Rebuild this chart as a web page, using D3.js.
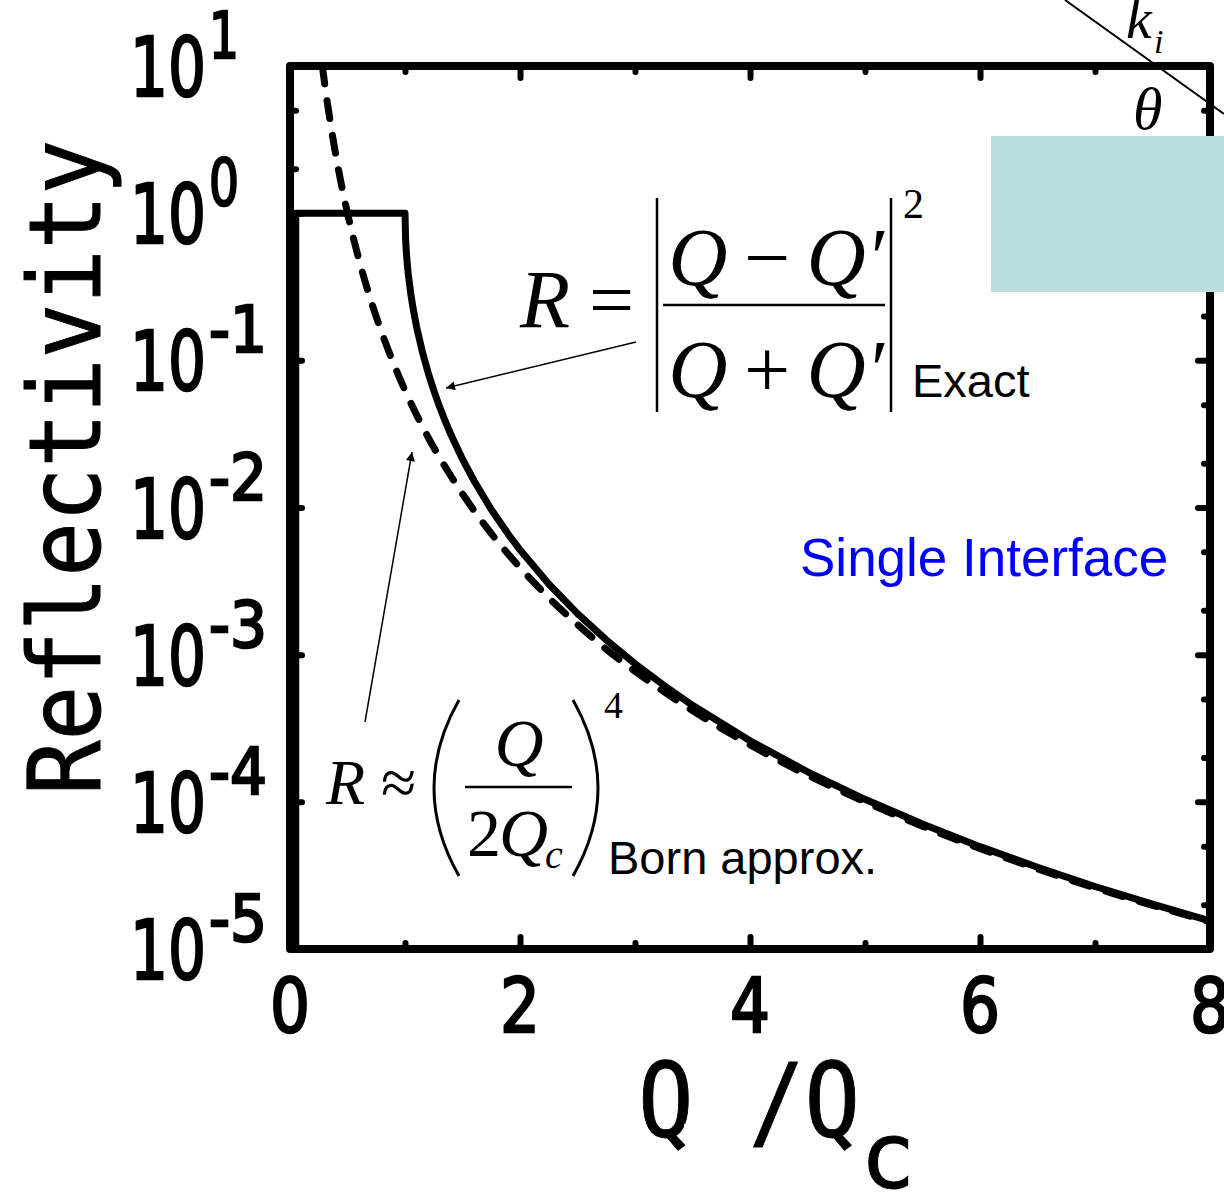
<!DOCTYPE html>
<html>
<head>
<meta charset="utf-8">
<script src="https://cdn.jsdelivr.net/npm/d3@7"></script>
<style>
  html, body { margin: 0; padding: 0; background: #fff; }
  svg { display: block; }
</style>
</head>
<body>
<script>
// Reflectivity of a single interface: exact Fresnel result vs. Born approximation
const xTicks = [0, 2, 4, 6, 8];
const xMinorTicks = [1, 3, 5, 7];
const yDecades = [1e1, 1e0, 1e-1, 1e-2, 1e-3, 1e-4, 1e-5];
const yExponents = ["1", "0", "-1", "-2", "-3", "-4", "-5"];

// exact reflectivity, Q/Qc vs R
const exactQ = [0.05, 0.05, 1.0, 1.005, 1.01, 1.02, 1.03, 1.05, 1.07, 1.1, 1.15, 1.2, 1.25, 1.3, 1.35, 1.4, 1.5, 1.6, 1.75, 1.9, 2.0, 2.25, 2.5, 2.75, 3.0, 3.25, 3.5, 4.0, 4.5, 5.0, 5.5, 6.0, 6.5, 7.0, 7.5, 8.0];
const exactR = [1e-5, 1.0, 1.0, 0.67, 0.568, 0.45, 0.376, 0.284, 0.226, 0.170, 0.115, 0.083, 0.0625, 0.0485, 0.0386, 0.0312, 0.0213, 0.0152, 0.0097, 0.00655, 0.00516, 0.00302, 0.0019, 0.00126, 0.000867, 0.000619, 0.000453, 0.00026, 0.00016, 0.000104, 7.07e-5, 4.96e-5, 3.59e-5, 2.66e-5, 2.02e-5, 1.55e-5];

// Born approximation, Q/Qc vs R
const bornQ = [0.281, 0.3, 0.35, 0.4, 0.45, 0.5, 0.6, 0.7, 0.8, 0.9, 1.0, 1.1, 1.2, 1.4, 1.6, 1.8, 2.0, 2.25, 2.5, 2.75, 3.0, 3.5, 4.0, 4.5, 5.0, 5.5, 6.0, 6.5, 7.0, 7.5, 8.0];
const bornR = [10, 7.72, 4.17, 2.44, 1.52, 1.0, 0.482, 0.26, 0.153, 0.0953, 0.0625, 0.0427, 0.0301, 0.0163, 0.00954, 0.00595, 0.00391, 0.00244, 0.0016, 0.00109, 0.000772, 0.000417, 0.000244, 0.000152, 0.0001, 6.83e-5, 4.82e-5, 3.5e-5, 2.6e-5, 1.98e-5, 1.53e-5];

const W = 1224, H = 1192;
const plot = { left: 290, right: 1210, top: 66, bottom: 949 };

const svg = d3.select("body").append("svg")
  .attr("width", W).attr("height", H)
  .attr("viewBox", `0 0 ${W} ${H}`);

const x = d3.scaleLinear().domain([0, 8]).range([plot.left, plot.right]);
const y = d3.scaleLog().domain([1e-5, 1e1]).range([plot.bottom, plot.top]);

const defs = svg.append("defs");
defs.append("clipPath").attr("id", "plotClip")
  .append("rect")
  .attr("x", plot.left).attr("y", plot.top)
  .attr("width", plot.right - plot.left).attr("height", plot.bottom - plot.top);

defs.append("marker")
  .attr("id", "arrowHead")
  .attr("viewBox", "0 0 10 10")
  .attr("refX", 10).attr("refY", 5)
  .attr("markerWidth", 14).attr("markerHeight", 9)
  .attr("markerUnits", "userSpaceOnUse")
  .attr("orient", "auto")
  .append("path").attr("d", "M0,0 L10,5 L0,10 Z").attr("fill", "#000");

// minor ticks at 2 and 5 in each decade
const yMinor = [];
for (let e = -5; e < 1; e++) {
  yMinor.push(2 * Math.pow(10, e), 5 * Math.pow(10, e));
}

const tickStyle = g => {
  g.select(".domain").remove();
  g.selectAll(".tick line")
    .attr("stroke", "#000")
    .attr("stroke-width", 6)
    .attr("stroke-linecap", "round");
  g.selectAll(".tick text").remove();
};

const axes = svg.append("g").attr("class", "axes");
const majorLen = 12, minorLen = 6;

axes.append("g").attr("transform", `translate(0,${plot.bottom})`)
  .call(d3.axisBottom(x).tickValues(xTicks).tickSize(-majorLen)).call(tickStyle);
axes.append("g").attr("transform", `translate(0,${plot.bottom})`)
  .call(d3.axisBottom(x).tickValues(xMinorTicks).tickSize(-minorLen)).call(tickStyle);
axes.append("g").attr("transform", `translate(0,${plot.top})`)
  .call(d3.axisTop(x).tickValues(xTicks).tickSize(-majorLen)).call(tickStyle);
axes.append("g").attr("transform", `translate(0,${plot.top})`)
  .call(d3.axisTop(x).tickValues(xMinorTicks).tickSize(-minorLen)).call(tickStyle);
axes.append("g").attr("transform", `translate(${plot.left},0)`)
  .call(d3.axisLeft(y).tickValues(yDecades).tickSize(-majorLen)).call(tickStyle);
axes.append("g").attr("transform", `translate(${plot.left},0)`)
  .call(d3.axisLeft(y).tickValues(yMinor).tickSize(-minorLen)).call(tickStyle);
axes.append("g").attr("transform", `translate(${plot.right},0)`)
  .call(d3.axisRight(y).tickValues(yDecades).tickSize(-majorLen)).call(tickStyle);
axes.append("g").attr("transform", `translate(${plot.right},0)`)
  .call(d3.axisRight(y).tickValues(yMinor).tickSize(-minorLen)).call(tickStyle);

// curves
const curves = svg.append("g").attr("clip-path", "url(#plotClip)");
const exactData = exactQ.map((q, i) => [q, exactR[i]]);
const bornData = bornQ.map((q, i) => [q, bornR[i]]);

curves.append("path")
  .datum(bornData)
  .attr("fill", "none")
  .attr("stroke", "#000")
  .attr("stroke-width", 7)
  .attr("stroke-linecap", "round")
  .attr("stroke-dasharray", "18 17")
  .attr("d", d3.line().x(d => x(d[0])).y(d => y(d[1])).curve(d3.curveMonotoneX));

curves.append("path")
  .datum(exactData)
  .attr("fill", "none")
  .attr("stroke", "#000")
  .attr("stroke-width", 7)
  .attr("stroke-linejoin", "round")
  .attr("d", d3.line().x(d => x(d[0])).y(d => y(d[1])));

// frame
svg.append("rect")
  .attr("x", plot.left).attr("y", plot.top)
  .attr("width", plot.right - plot.left).attr("height", plot.bottom - plot.top)
  .attr("fill", "none").attr("stroke", "#000").attr("stroke-width", 8)
  .attr("stroke-linejoin", "round");

// tick labels
const monoFont = "'DejaVu Sans Mono', monospace";
const digitFont = "'DejaVu Sans', sans-serif";
const xLab = svg.append("g").attr("font-family", digitFont)
  .attr("stroke", "#000").attr("stroke-width", 2.5);
xLab.selectAll("text").data(xTicks).join("text")
  .attr("x", d => x(d)).attr("y", 1032)
  .attr("text-anchor", "middle")
  .attr("font-size", 74)
  .attr("textLength", 40).attr("lengthAdjust", "spacingAndGlyphs")
  .text(d => d);

const yLab = svg.append("g").attr("font-family", digitFont)
  .attr("stroke", "#000").attr("stroke-width", 2.5);
yDecades.forEach((v, i) => {
  const ty = y(v);
  yLab.append("text")
    .attr("x", 130).attr("y", ty + 30)
    .attr("font-size", 82)
    .attr("textLength", 76).attr("lengthAdjust", "spacingAndGlyphs")
    .text("10");
  const ex = yExponents[i];
  yLab.append("text")
    .attr("x", 209).attr("y", ty - 8)
    .attr("font-size", 64)
    .attr("textLength", ex.length > 1 ? 58 : 30).attr("lengthAdjust", "spacingAndGlyphs")
    .text(ex);
});

// axis titles
svg.append("text")
  .attr("transform", "translate(100,795) rotate(-90)")
  .attr("font-family", monoFont)
  .attr("font-size", 99)
  .attr("stroke", "#000").attr("stroke-width", 1)
  .attr("textLength", 655).attr("lengthAdjust", "spacingAndGlyphs")
  .text("Reflectivity");

const xTitle = svg.append("g").attr("font-family", monoFont)
  .attr("stroke", "#000").attr("stroke-width", 1);
xTitle.append("text")
  .attr("x", 638).attr("y", 1137)
  .attr("font-size", 104)
  .attr("textLength", 222).attr("lengthAdjust", "spacingAndGlyphs")
  .text("Q /Q");
xTitle.append("text")
  .attr("x", 860).attr("y", 1188)
  .attr("font-size", 92)
  .text("c");
svg.append("rect").attr("x", 684).attr("y", 1124).attr("width", 10).attr("height", 18).attr("fill", "#fff");

// exact formula
const serif = "'Liberation Serif', 'Times New Roman', serif";
const fx = svg.append("g").attr("font-family", serif).attr("fill", "#000");
fx.append("text").attr("x", 520).attr("y", 327).attr("font-size", 82).attr("font-style", "italic").text("R");
fx.append("text").attr("x", 589).attr("y", 327).attr("font-size", 80).text("=");
[657, 891].forEach(bx => fx.append("line")
  .attr("x1", bx).attr("x2", bx).attr("y1", 198).attr("y2", 412)
  .attr("stroke", "#000").attr("stroke-width", 2.5));
fx.append("line").attr("x1", 663).attr("x2", 885).attr("y1", 305).attr("y2", 305)
  .attr("stroke", "#000").attr("stroke-width", 2.5);
const num = fx.append("text").attr("x", 776).attr("y", 285).attr("font-size", 82).attr("text-anchor", "middle");
num.append("tspan").attr("font-style", "italic").text("Q");
num.append("tspan").text("\u2009\u2212\u2009");
num.append("tspan").attr("font-style", "italic").text("Q\u2032");
const den = fx.append("text").attr("x", 776).attr("y", 397).attr("font-size", 82).attr("text-anchor", "middle");
den.append("tspan").attr("font-style", "italic").text("Q");
den.append("tspan").text("\u2009+\u2009");
den.append("tspan").attr("font-style", "italic").text("Q\u2032");
fx.append("text").attr("x", 903).attr("y", 218).attr("font-size", 42).text("2");
svg.append("text").attr("x", 912).attr("y", 397)
  .attr("font-family", "'Liberation Sans', Arial, sans-serif").attr("font-size", 47).text("Exact");

// Born formula
const fb = svg.append("g").attr("font-family", serif).attr("fill", "#000");
fb.append("text").attr("x", 326).attr("y", 804).attr("font-size", 64).attr("font-style", "italic").text("R");
fb.append("text").attr("x", 381).attr("y", 804).attr("font-size", 64).text("\u2248");
fb.append("path").attr("d", "M459,700 Q409,788 459,876").attr("fill", "none").attr("stroke", "#000").attr("stroke-width", 3);
fb.append("path").attr("d", "M573,700 Q623,788 573,876").attr("fill", "none").attr("stroke", "#000").attr("stroke-width", 3);
fb.append("line").attr("x1", 465).attr("x2", 572).attr("y1", 787).attr("y2", 787)
  .attr("stroke", "#000").attr("stroke-width", 2.5);
fb.append("text").attr("x", 519).attr("y", 766).attr("font-size", 68).attr("font-style", "italic")
  .attr("text-anchor", "middle").text("Q");
fb.append("text").attr("x", 467).attr("y", 856).attr("font-size", 68).text("2");
fb.append("text").attr("x", 499).attr("y", 856).attr("font-size", 68).attr("font-style", "italic").text("Q");
fb.append("text").attr("x", 545).attr("y", 868).attr("font-size", 40).attr("font-style", "italic").text("c");
fb.append("text").attr("x", 604).attr("y", 718).attr("font-size", 38).text("4");
svg.append("text").attr("x", 608).attr("y", 874)
  .attr("font-family", "'Liberation Sans', Arial, sans-serif").attr("font-size", 47).text("Born approx.");

// arrows
svg.append("line").attr("x1", 636).attr("y1", 342).attr("x2", 446).attr("y2", 388)
  .attr("stroke", "#000").attr("stroke-width", 1.5).attr("marker-end", "url(#arrowHead)");
svg.append("line").attr("x1", 365).attr("y1", 722).attr("x2", 412).attr("y2", 452)
  .attr("stroke", "#000").attr("stroke-width", 1.5).attr("marker-end", "url(#arrowHead)");

// annotation
svg.append("text").attr("x", 800).attr("y", 576)
  .attr("font-family", "'Liberation Sans', Arial, sans-serif").attr("font-size", 53)
  .attr("fill", "#0000ff").text("Single Interface");

// incident-beam sketch
svg.append("rect").attr("x", 991).attr("y", 136).attr("width", 233).attr("height", 156).attr("fill", "#badfe2");
svg.append("line").attr("x1", 1065).attr("y1", 0).attr("x2", 1224).attr("y2", 114)
  .attr("stroke", "#000").attr("stroke-width", 2);
const sk = svg.append("g").attr("font-family", serif).attr("font-style", "italic");
sk.append("text").attr("x", 1126).attr("y", 38).attr("font-size", 58).text("k");
sk.append("text").attr("x", 1154).attr("y", 53).attr("font-size", 34).text("i");
sk.append("text").attr("x", 1133).attr("y", 129).attr("font-size", 60).text("\u03b8");
</script>
</body>
</html>
